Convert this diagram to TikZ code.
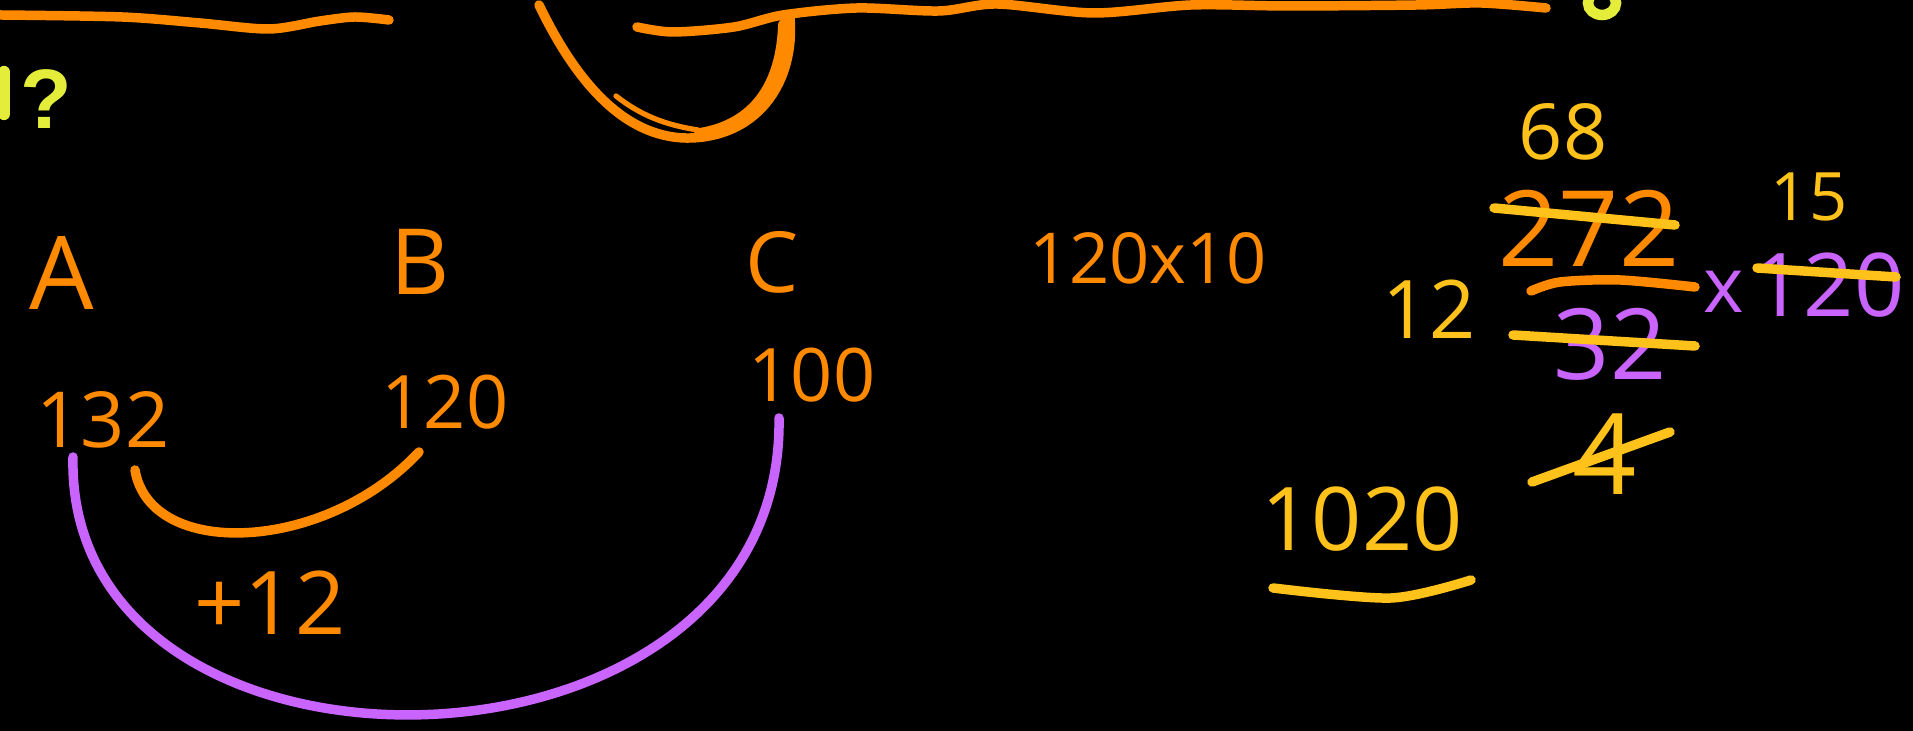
\documentclass[tikz,border=0pt]{standalone}
\usepackage{fontspec}
\setmainfont{Open Sans}
\newfontfamily\qfont{Liberation Sans}
\usetikzlibrary{calc}
\definecolor{hOrange}{HTML}{FF8A00}
\definecolor{hYellow}{HTML}{FFC21A}
\definecolor{hPurple}{HTML}{C964FF}
\definecolor{hLime}{HTML}{E4EE3A}
\tikzset{
  pen/.style={line width=2.7pt,line cap=round,line join=round},
  hw/.style={inner sep=0pt,font=\fontsize{#1}{#1}\selectfont},
}
\begin{document}
\begin{tikzpicture}[x=0.1mm,y=-0.1mm]
\fill[black] (0,0) rectangle (1913,731);
\useasboundingbox (0,0) rectangle (1913,731);
\clip (0,0) rectangle (1913,731);

% top strokes
\draw[pen,hOrange] plot[smooth] coordinates {(0,15) (122,17) (200,23) (269,29) (320,21) (355,17) (389,20)};
\draw[pen,hOrange] plot[smooth] coordinates {(637,27) (673,32) (734,27) (783,15) (857,8) (939,11) (997,4) (1094,13) (1191,5) (1288,6) (1417,5) (1481,3) (1546,8)};
\draw[pen,hOrange] (539,5) .. controls (580,90) and (630,140) .. (692,138) .. controls (760,135) and (795,80) .. (790,18);
\draw[pen,hOrange,line width=3.4pt] (700,134) .. controls (755,125) and (782,85) .. (784,25);
\draw[pen,hOrange,line width=1.5pt] (616,96) .. controls (640,115) and (665,125) .. (698,130);
\draw[hLime,line width=3pt] (1602,3) ellipse [x radius=14, y radius=12];
\draw[hLime,line width=3.5pt,line cap=round] (4,72) -- (4,114);
\node[inner sep=0pt,text=hLime,font=\qfont\bfseries\fontsize{24}{24}\selectfont] (q) at (46,99) {?};

% left group
\node[hw=29,text=hOrange] (A) at (62,273) {A};
\node[hw=26,text=hOrange] (B) at (420,262) {B};
\node[hw=24,text=hOrange] (C) at (772,262) {C};
\node[hw=22,text=hOrange] (n132) at (103,420) {132};
\node[hw=21,text=hOrange] (n120) at (445,402) {120};
\node[hw=21,text=hOrange] (n100) at (812,375) {100};
\node[hw=25,text=hOrange] (p12) at (270,603) {+12};

\draw[pen,hOrange] ($(n132.center)+(32,50)$) .. controls (150,560) and (325,553) .. ($(n120.center)+(-26,50)$);
\draw[pen,hPurple] ($(n132.center)+(-30,37)$) .. controls (65,812) and (785,802) .. ($(n100.center)+(-33,43)$);

% middle
\node[hw=20,text=hOrange] (calc) at (1148,258) {120x10};

% right computation
\node[hw=22,text=hYellow] (n68) at (1563,132) {68};
\node[hw=30,text=hOrange] (n272) at (1589,228) {272};
\draw[pen,hYellow] (1494,208) -- (1675,225);
\draw[pen,hOrange] plot[smooth] coordinates {(1531,291) (1560,282) (1620,280) (1695,287)};
\node[hw=23,text=hYellow] (n12) at (1429,309) {12};
\node[hw=28,text=hPurple] (n32) at (1610,344) {32};
\draw[pen,hYellow] (1513,335) -- (1695,346);
\node[hw=22,text=hPurple] (times) at (1724,292) {x};
\node[hw=19,text=hYellow] (n15) at (1809,197) {15};
\node[hw=25,text=hPurple] (n120b) at (1829,285) {120};
\draw[pen,hYellow] (1757,268) -- (1896,277);
\node[hw=32,text=hYellow] (n4) at (1605,454) {4};
\draw[pen,hYellow] (1532,482) -- (1670,432);
\node[hw=25,text=hYellow] (n1020) at (1362,519) {1020};
\draw[pen,hYellow] plot[smooth] coordinates {(1273,588) (1391,598) (1471,580)};
\end{tikzpicture}
\end{document}
